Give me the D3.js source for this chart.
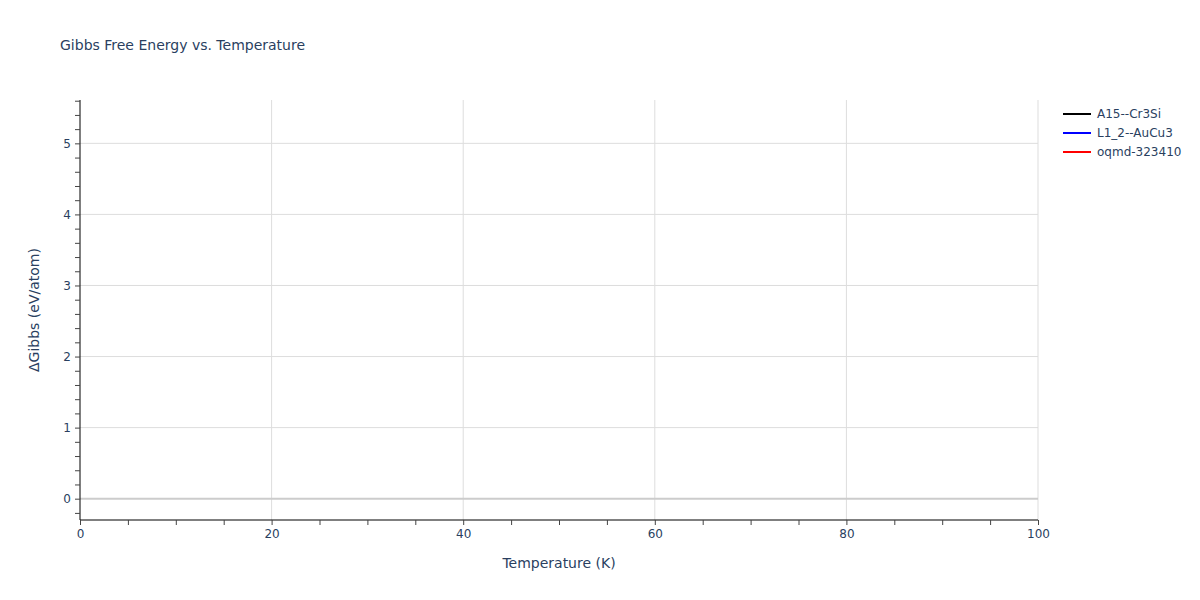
<!DOCTYPE html>
<html><head><meta charset="utf-8">
<script src="https://cdn.jsdelivr.net/npm/d3@7"></script>
<style>body{margin:0;background:#fff;font-family:"DejaVu Sans",sans-serif;}</style>
</head><body><svg id="c" width="1200" height="600"></svg>
<script>
const seriesNames = ["A15--Cr3Si", "L1_2--AuCu3", "oqmd-323410"];
const seriesColors = ["#000000", "#0000ff", "#ff0000"];
// No visible data points in the reference within the plotted range
const seriesTemps = [[], [], []];
const seriesValues = [[], [], []];
const xTicks = [0, 20, 40, 60, 80, 100];
const yTicks = [0, 1, 2, 3, 4, 5];
const xDomain = [0, 100];
const yDomain = [-0.3, 5.61];

const FONT = "'DejaVu Sans',Verdana,sans-serif";
const svg = d3.select("#c");
const m = {l:80, r:162, t:100, b:80};
const W = 1200, H = 600;
const x = d3.scaleLinear().domain(xDomain).range([m.l, W - m.r]);
const y = d3.scaleLinear().domain(yDomain).range([H - m.b, m.t]);
const txt = "#2a3f5f";

// gridlines
svg.append("g").selectAll("line").data(xTicks.filter(d=>d>0)).join("line")
  .attr("x1", d=>x(d)).attr("x2", d=>x(d)).attr("y1", m.t).attr("y2", H-m.b)
  .attr("stroke", "#dddddd").attr("stroke-width", 1);
svg.append("g").selectAll("line").data(yTicks.filter(d=>d!==0)).join("line")
  .attr("x1", m.l).attr("x2", W-m.r).attr("y1", d=>y(d)).attr("y2", d=>y(d))
  .attr("stroke", "#dddddd").attr("stroke-width", 1);
// zero line
svg.append("line").attr("x1", m.l).attr("x2", W-m.r).attr("y1", y(0)).attr("y2", y(0))
  .attr("stroke", "#cccccc").attr("stroke-width", 2);

// data lines
const line = d3.line().x(d=>x(d[0])).y(d=>y(d[1]));
seriesNames.forEach((n,i)=>{
  const pts = seriesTemps[i].map((t,j)=>[t, seriesValues[i][j]]);
  svg.append("path").datum(pts).attr("d", line).attr("fill","none")
    .attr("stroke", seriesColors[i]).attr("stroke-width", 2);
});

// axes
const xMinor = d3.range(0, 101, 5);
const yMinor = d3.range(-0.2, 5.61, 0.2).map(v=>+v.toFixed(2));
const xa = svg.append("g").attr("transform", `translate(0,${H-m.b})`)
  .call(d3.axisBottom(x).tickValues(xMinor).tickFormat(d=>xTicks.includes(d)?d:"").tickSize(5).tickPadding(4));
const ya = svg.append("g").attr("transform", `translate(${m.l},0)`)
  .call(d3.axisLeft(y).tickValues(yMinor).tickFormat(d=>yTicks.includes(d)?d:"").tickSize(5).tickPadding(4));
[xa, ya].forEach(a=>{
  a.select(".domain").attr("stroke","#000").attr("stroke-width",1);
  a.selectAll(".tick line").attr("stroke","#444");
  a.selectAll("text").attr("fill", txt).style("font-family",FONT).style("font-size","12px");
});
xa.select(".domain").attr("d", `M${m.l},0H${W-m.r}`);
ya.select(".domain").attr("d", `M0,${m.t}V${H-m.b}`);

// title
svg.append("text").attr("x", 60).attr("y", 50).text("Gibbs Free Energy vs. Temperature")
  .attr("fill", txt).style("font-family",FONT).style("font-size","14px");
svg.append("text").attr("x", (m.l + W - m.r)/2).attr("y", 568).attr("text-anchor","middle")
  .text("Temperature (K)").attr("fill", txt).style("font-family",FONT).style("font-size","14px");
svg.append("text").attr("transform", `translate(39,${(m.t + H - m.b)/2}) rotate(-90)`)
  .attr("text-anchor","middle").text("ΔGibbs (eV/atom)").attr("fill", txt).style("font-family",FONT).style("font-size","14px");

// legend
const lg = svg.append("g");
seriesNames.forEach((n,i)=>{
  const yy = 114 + i*19;
  lg.append("line").attr("x1",1063).attr("x2",1091).attr("y1",yy).attr("y2",yy)
    .attr("stroke", seriesColors[i]).attr("stroke-width",2);
  lg.append("text").attr("x",1097).attr("y",yy+4).text(n).attr("fill",txt).style("font-family",FONT).style("font-size","12px");
});
</script></body></html>
